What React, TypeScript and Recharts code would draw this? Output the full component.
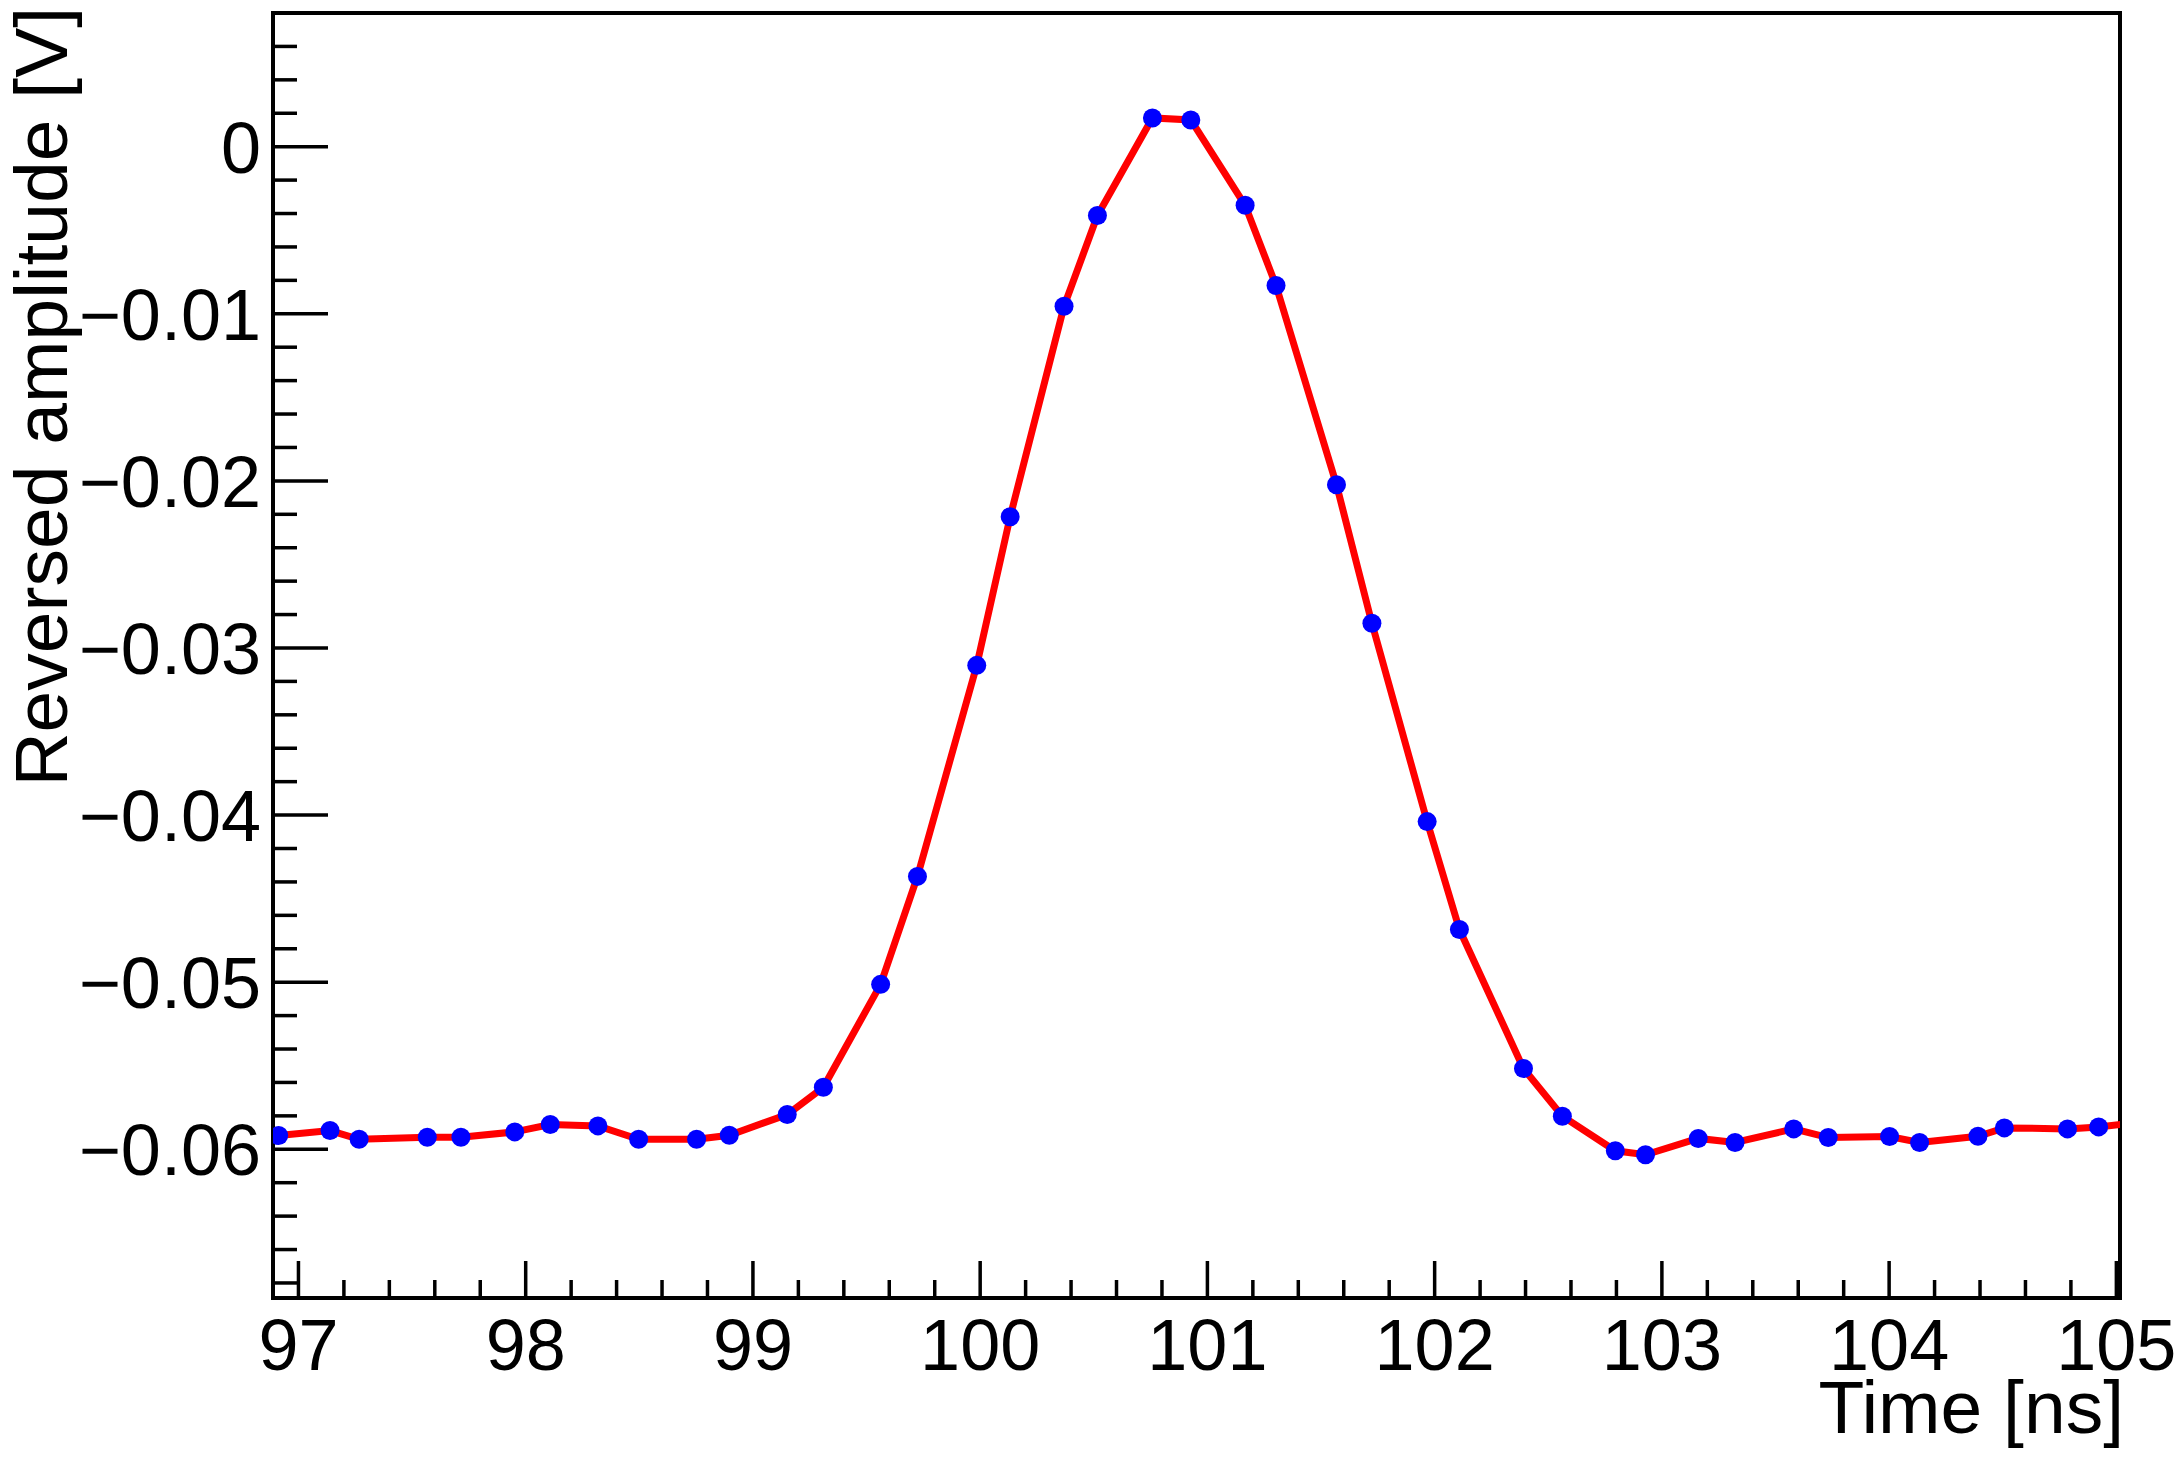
import { LineChart, Line, XAxis, YAxis, ReferenceArea } from "recharts";

// sample times [ns] and reversed amplitude [V]
const times = [
  96.913, 97.139, 97.267, 97.567, 97.715, 97.952, 98.108, 98.318, 98.497, 98.752,
  98.896, 99.151, 99.31, 99.562, 99.724, 99.985, 100.132, 100.369, 100.516, 100.758,
  100.927, 101.166, 101.302, 101.568, 101.724, 101.967, 102.109, 102.391, 102.562, 102.795,
  102.928, 103.16, 103.322, 103.58, 103.732, 104.002, 104.134, 104.391, 104.507, 104.785,
  104.922, 105.15,
];
const amplitudes = [
  -0.05918, -0.05888, -0.0594, -0.05928, -0.05928, -0.05896, -0.05852, -0.0586, -0.0594, -0.0594,
  -0.05916, -0.05792, -0.05629, -0.05013, -0.04367, -0.03104, -0.02215, -0.00955, -0.00412, 0.00172,
  0.0016, -0.00351, -0.00831, -0.02023, -0.02852, -0.04039, -0.04685, -0.05517, -0.05802, -0.06009,
  -0.06033, -0.05935, -0.05959, -0.05878, -0.0593, -0.05924, -0.05959, -0.05922, -0.05872, -0.05878,
  -0.05866, -0.0583,
];

const xMajorTicks = [97, 98, 99, 100, 101, 102, 103, 104, 105];
const xTickLabels = ["97", "98", "99", "100", "101", "102", "103", "104", "105"];
const yMajorTicks = [-0.06, -0.05, -0.04, -0.03, -0.02, -0.01, 0];
const yTickLabels = ["\u22120.06", "\u22120.05", "\u22120.04", "\u22120.03", "\u22120.02", "\u22120.01", "0"];

const xDomain: [number, number] = [96.888, 105.016];
const yDomain: [number, number] = [-0.0689, 0.008];

// minor ticks: 5 divisions per major step
const xTicks: number[] = [];
for (let i = 0; i <= 40; i++) xTicks.push(Math.round((97 + i * 0.2) * 10) / 10);
const yTicks: number[] = [];
for (let i = 0; i <= 38; i++) yTicks.push(Math.round((-0.068 + i * 0.002) * 1000) / 1000);

const data = times.map((t, i) => ({ t, v: amplitudes[i] }));

const FONT = "'Liberation Sans', Arial, Helvetica, sans-serif";

function XTick(props: any) {
  const { x, y, payload } = props;
  const idx = xMajorTicks.findIndex((m) => Math.abs(m - payload.value) < 1e-6);
  const major = idx >= 0;
  return (
    <g>
      <line x1={x} y1={y} x2={x} y2={y - (major ? 37 : 18)} stroke="#000" strokeWidth={3.5} />
      {major && (
        <text x={x} y={y + 72} textAnchor="middle" fontSize={72} fontFamily={FONT} fill="#000">
          {xTickLabels[idx]}
        </text>
      )}
    </g>
  );
}

function YTick(props: any) {
  const { x, y, payload } = props;
  const idx = yMajorTicks.findIndex((m) => Math.abs(m - payload.value) < 1e-7);
  const major = idx >= 0;
  return (
    <g>
      <line x1={x} y1={y} x2={x + (major ? 55 : 24)} y2={y} stroke="#000" strokeWidth={3.5} />
      {major && (
        <text x={x - 12} y={y + 26} textAnchor="end" fontSize={72} fontFamily={FONT} fill="#000">
          {yTickLabels[idx]}
        </text>
      )}
    </g>
  );
}

function XTitle(props: any) {
  const vb = props.viewBox ?? { x: 273, y: 1298, width: 1847, height: 159 };
  return (
    <text x={vb.x + vb.width + 4} y={vb.y + 135} textAnchor="end" fontSize={75} fontFamily={FONT} fill="#000">
      Time [ns]
    </text>
  );
}

function YTitle(props: any) {
  const vb = props.viewBox ?? { x: 0, y: 13, width: 273, height: 1285 };
  const x = vb.x + 67;
  const y = vb.y - 6;
  return (
    <text
      x={x}
      y={y}
      transform={`rotate(-90, ${x}, ${y})`}
      textAnchor="end"
      fontSize={75}
      fontFamily={FONT}
      fill="#000"
    >
      Reversed amplitude [V]
    </text>
  );
}

export default function App() {
  return (
    <div style={{ position: "absolute", left: 0, top: 0, background: "#fff" }}>
      <LineChart width={2184} height={1457} data={data} margin={{ top: 13, right: 64, bottom: 0, left: 0 }}>
        <XAxis
          dataKey="t"
          type="number"
          domain={xDomain}
          allowDataOverflow
          ticks={xTicks}
          interval={0}
          height={159}
          tickSize={0}
          tickMargin={0}
          tickLine={false}
          axisLine={{ stroke: "#000", strokeWidth: 4 }}
          tick={(p: any) => <XTick {...p} />}
          label={{ content: (p: any) => <XTitle {...p} /> }}
        />
        <YAxis
          type="number"
          domain={yDomain}
          allowDataOverflow
          ticks={yTicks}
          interval={0}
          width={273}
          tickSize={0}
          tickMargin={0}
          tickLine={false}
          axisLine={{ stroke: "#000", strokeWidth: 4 }}
          tick={(p: any) => <YTick {...p} />}
          label={{ content: (p: any) => <YTitle {...p} /> }}
        />
        <Line
          type="linear"
          dataKey="v"
          stroke="#ff0000"
          strokeWidth={7}
          dot={{ r: 9.5, fill: "#0000ff", stroke: "none" }}
          isAnimationActive={false}
        />
        <ReferenceArea
          x1={xDomain[0]}
          x2={xDomain[1]}
          y1={yDomain[0]}
          y2={yDomain[1]}
          fill="none"
          fillOpacity={0}
          stroke="#000"
          strokeWidth={4}
        />
      </LineChart>
    </div>
  );
}
